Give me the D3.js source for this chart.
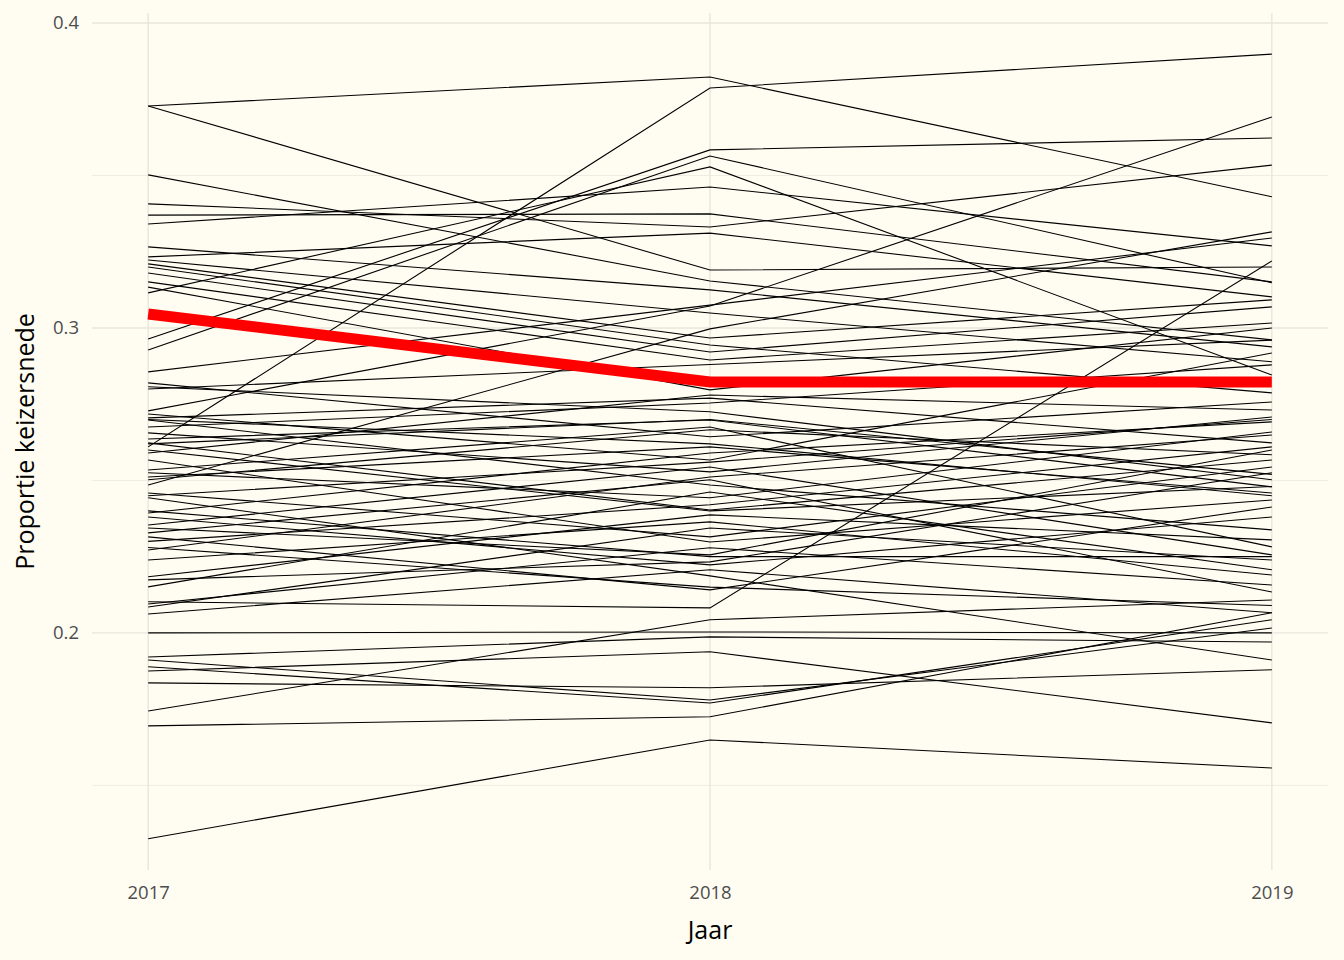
<!DOCTYPE html>
<html>
<head>
<meta charset="utf-8">
<script src="https://cdn.jsdelivr.net/npm/d3@7"></script>
<style>
  html, body { margin: 0; padding: 0; background: #fffdf2; }
  svg { display: block; }
  text { font-family: "Open Sans", "Noto Sans", sans-serif; }
</style>
</head>
<body>
<script>
const years = [2017, 2018, 2019];
const yearLabels = ["2017", "2018", "2019"];

// proportie keizersnede per ziekenhuis, per jaar (index = ziekenhuis)
const p2017 = [0.3728,0.2610,0.3728,0.3502,0.3407,0.3370,0.3341,0.2964,0.2928,0.3115,
               0.2728,0.2856,0.2485,0.2102,0.1325,0.1695,0.1744,0.1836,0.1911,0.1889,
               0.1875,0.2000,0.2443,0.3266,0.3233,0.3223,0.3210,0.3200,0.3180,0.3151,
               0.3134,
               0.2820,0.2807,0.2718,0.2705,0.2698,0.2675,0.2656,0.2636,0.2623,0.2590,
               0.2567,0.2534,0.2525,0.2511,0.2502,0.2459,0.2393,0.2380,0.2354,0.2344,
               0.2328,0.2315,0.2272,0.2239,0.2184,0.2174,0.2151,0.2095,0.2085,0.2062,
               0.1921,
               0.2700,0.2450,0.2600,0.2300,0.2620,0.2400,0.2800,0.2280];
const p2018 = [0.3823,0.3787,0.3190,0.3154,0.3331,0.3374,0.3462,0.3584,0.3564,0.3528,
               0.3072,0.3075,0.2997,0.2082,0.1649,0.1725,0.2043,0.1820,0.1780,0.1770,
               0.1938,0.2003,0.2187,0.3125,0.3311,0.3049,0.2967,0.2944,0.2921,0.2895,
               0.2797,
               0.2643,0.2725,0.2567,0.2770,0.2485,0.2754,0.2528,0.2698,0.2403,0.2780,
               0.2298,0.2675,0.2443,0.2610,0.2666,0.2315,0.2590,0.2223,0.2544,0.2256,
               0.2502,0.2141,0.2511,0.2364,0.2387,0.2233,0.2462,0.2279,0.2344,0.2207,
               0.1987,
               0.2620,0.2560,0.2400,0.2420,0.2700,0.2250,0.2880,0.2150];
const p2019 = [0.3430,0.3898,0.3200,0.2961,0.3534,0.3151,0.3269,0.3623,0.3148,0.2846,
               0.3692,0.3295,0.3315,0.3220,0.1557,0.2066,0.2108,0.1879,0.2016,0.2043,
               0.1705,0.2000,0.1911,0.2938,0.3102,0.2889,0.3092,0.2787,0.3069,0.3016,
               0.3000,
               0.2757,0.2502,0.2918,0.2623,0.2338,0.2879,0.2708,0.2479,0.2567,0.2731,
               0.2436,0.2282,0.2659,0.2459,0.2584,0.2544,0.2692,0.2380,0.2256,0.2600,
               0.2134,0.2413,0.2649,0.2190,0.2305,0.2525,0.2207,0.2157,0.2239,0.2066,
               0.1970,
               0.2450,0.2700,0.2480,0.2610,0.2520,0.2250,0.2960,0.2090];
// highlighted series (red)
const highlight = [0.3046, 0.2823, 0.2823];

const yMajorTicks = [0.2, 0.3, 0.4];
const yMinorTicks = [0.15, 0.25, 0.35];
const xTitle = "Jaar";
const yTitle = "Proportie keizersnede";

const W = 1344, H = 960;
const svg = d3.select("body").append("svg").attr("width", W).attr("height", H);
svg.append("rect").attr("width", W).attr("height", H).attr("fill", "#fffdf2");

const x = d3.scaleLinear().domain([2017 - 0.1, 2019 + 0.1]).range([92, 1328]);
const y = d3.scaleLinear().domain([0.12225, 0.40328]).range([870, 13]);

const grid = svg.append("g");
grid.selectAll("line.minor").data(yMinorTicks).join("line")
  .attr("x1", x.range()[0]).attr("x2", x.range()[1])
  .attr("y1", d => y(d)).attr("y2", d => y(d))
  .attr("stroke", "#efede2").attr("stroke-width", 1);
grid.selectAll("line.major").data(yMajorTicks).join("line")
  .attr("x1", x.range()[0]).attr("x2", x.range()[1])
  .attr("y1", d => y(d)).attr("y2", d => y(d))
  .attr("stroke", "#e8e6db").attr("stroke-width", 1.4);
grid.selectAll("line.vx").data(years).join("line")
  .attr("x1", d => x(d)).attr("x2", d => x(d))
  .attr("y1", y.range()[0]).attr("y2", y.range()[1])
  .attr("stroke", "#e8e6db").attr("stroke-width", 1.4);

const series = p2017.map((v, i) => [p2017[i], p2018[i], p2019[i]]);
const line = d3.line().x((d, i) => x(years[i])).y(d => y(d));

svg.append("g").selectAll("path").data(series).join("path")
  .attr("d", line).attr("fill", "none")
  .attr("stroke", "#000").attr("stroke-width", 1.1);

svg.append("path").datum(highlight).attr("d", line)
  .attr("fill", "none").attr("stroke", "#ff0000").attr("stroke-width", 11);

// Axes (labels only)
const yAxis = d3.axisLeft(y).tickValues(yMajorTicks).tickFormat(d3.format(".1f")).tickSize(0).tickPadding(0);
const gy = svg.append("g").attr("transform", "translate(79,0)").call(yAxis);
gy.select(".domain").remove();
gy.selectAll("text").attr("fill", "#4d4d4d").attr("font-size", null).style("font-size", "18.5px");

const xAxis = d3.axisBottom(x).tickValues(years).tickFormat((d, i) => yearLabels[i]).tickSize(0).tickPadding(0);
const gx = svg.append("g").attr("transform", "translate(0,886)").call(xAxis);
gx.select(".domain").remove();
gx.selectAll("text").attr("fill", "#4d4d4d").style("font-size", "18.5px");

svg.append("text").attr("x", (x.range()[0] + x.range()[1]) / 2).attr("y", 939)
  .attr("text-anchor", "middle").attr("fill", "#000").style("font-size", "25px").text(xTitle);
svg.append("text").attr("transform", `translate(34,${(y.range()[0] + y.range()[1]) / 2}) rotate(-90)`)
  .attr("text-anchor", "middle").attr("fill", "#000").style("font-size", "25px").text(yTitle);
</script>
</body>
</html>
